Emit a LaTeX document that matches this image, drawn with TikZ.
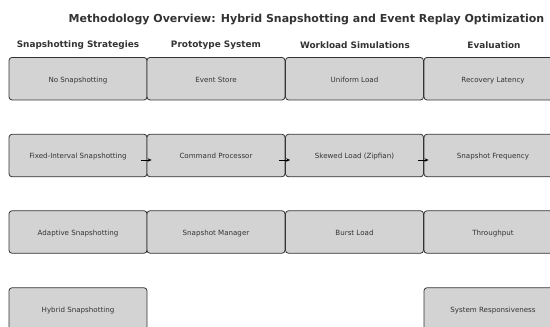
\documentclass[tikz,border=0pt]{standalone}
\usepackage{fontspec}
\setmainfont{DejaVu Sans}
\usetikzlibrary{arrows.meta}
\definecolor{boxfill}{HTML}{D3D3D3}
\definecolor{boxline}{HTML}{333333}
\definecolor{txt}{HTML}{333333}
\tikzset{
  stagebox/.style={draw=boxline, fill=boxfill, line width=0.8pt, rounded corners=3pt,
    minimum width=138pt, minimum height=42.5pt, inner sep=0pt,
    text height=8.2pt, text depth=1.6pt,
    font=\fontsize{7.1}{8.5}\selectfont, text=txt},
  header/.style={font=\bfseries\fontsize{8.9}{10.5}\selectfont, text=txt},
  titletext/.style={font=\bfseries\fontsize{11}{13}\selectfont, text=txt},
  flow/.style={-{Stealth[length=4pt,width=3.5pt]}, line width=0.9pt, black}
}
\begin{document}
\begin{tikzpicture}[x=1pt,y=-1pt]
\useasboundingbox (0,0) rectangle (550,327);
\clip (0,0) rectangle (550,327);
\node[titletext] (title) at (306.5,19.5) {Methodology Overview: Hybrid Snapshotting and Event Replay Optimization};
\node[header] (h1) at (78,45) {Snapshotting Strategies};
\node[header] (h2) at (216,45) {Prototype System};
\node[header] (h3) at (355,45) {Workload Simulations};
\node[header] (h4) at (494,45) {Evaluation};
% column 1
\node[stagebox] (a1) at (78,78.7) {No Snapshotting};
\node[stagebox] (a2) at (78,155.5) {Fixed-Interval Snapshotting};
\node[stagebox] (a3) at (78,232) {Adaptive Snapshotting};
\node[stagebox] (a4) at (78,309) {Hybrid Snapshotting};
% column 2
\node[stagebox] (b1) at (216,78.7) {Event Store};
\node[stagebox] (b2) at (216,155.5) {Command Processor};
\node[stagebox] (b3) at (216,232) {Snapshot Manager};
% column 3
\node[stagebox] (c1) at (354.5,78.7) {Uniform Load};
\node[stagebox] (c2) at (354.5,155.5) {Skewed Load (Zipfian)};
\node[stagebox] (c3) at (354.5,232) {Burst Load};
% column 4
\node[stagebox] (d1) at (493,78.7) {Recovery Latency};
\node[stagebox] (d2) at (493,155.5) {Snapshot Frequency};
\node[stagebox] (d3) at (493,232) {Throughput};
\node[stagebox] (d4) at (493,309) {System Responsiveness};
% arrows
\draw[flow] ([xshift=-6pt,yshift=-4.5pt]a2.east) -- ([xshift=5pt,yshift=-4.5pt]b2.west);
\draw[flow] ([xshift=-6pt,yshift=-4.5pt]b2.east) -- ([xshift=5pt,yshift=-4.5pt]c2.west);
\draw[flow] ([xshift=-6pt,yshift=-4.5pt]c2.east) -- ([xshift=5pt,yshift=-4.5pt]d2.west);
\end{tikzpicture}
\end{document}
